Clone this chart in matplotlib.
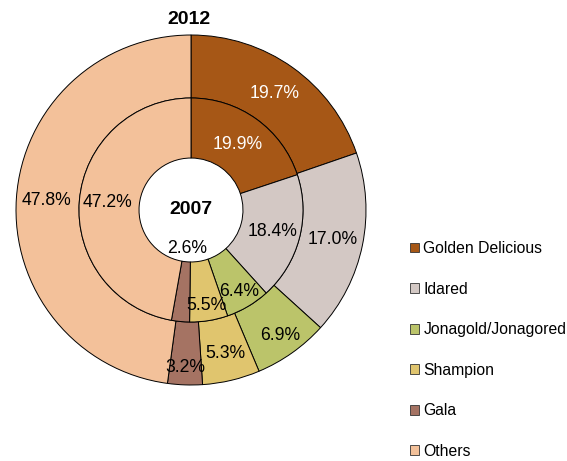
import matplotlib
matplotlib.use("Agg")
import matplotlib.pyplot as plt
import matplotlib.patches as mpatches
import numpy as np

plt.rcParams['font.family'] = ['Liberation Sans', 'DejaVu Sans']

varieties = ["Golden Delicious", "Idared", "Jonagold/Jonagored", "Shampion", "Gala", "Others"]
share_2012 = [19.7, 17.0, 6.9, 5.3, 3.2, 47.8]
share_2007 = [19.9, 18.4, 6.4, 5.5, 2.6, 47.2]
colors = ['#A65716', '#D3C8C4', '#BBC46A', '#E0C56E', '#A57363', '#F3C19A']
text_colors = ['white', 'black', 'black', 'black', 'black', 'black']

# where Excel put the labels (fraction of outer radius)
outer_label_r = [0.82, 0.825, 0.88, 0.84, 0.9, 0.83]
inner_label_r = [0.46, 0.48, 0.54, 0.555, 0.22, 0.48]

fig = plt.figure(figsize=(5.67, 4.61), dpi=100)
# pie centre at (191, 210) px, radius 175 px
ax = fig.add_axes([(191 - 175) / 567, (461 - 210 - 175) / 461, 350 / 567, 350 / 461])
ax.axis('off')

inner_r = 0.64
hole_r = 0.297
edge = dict(edgecolor='black', linewidth=0.7)

outer_wedges, _ = ax.pie(share_2012, radius=1, startangle=90, counterclock=False,
                         colors=colors, wedgeprops=dict(width=1 - inner_r, **edge))
inner_wedges, _ = ax.pie(share_2007, radius=inner_r, startangle=90, counterclock=False,
                         colors=colors, wedgeprops=dict(width=inner_r - hole_r, **edge))
ax.set_xlim(-1, 1)
ax.set_ylim(-1, 1)

def put_labels(wedges, values, radii):
    for w, v, r, c in zip(wedges, values, radii, text_colors):
        mid = np.deg2rad((w.theta1 + w.theta2) / 2)
        ax.text(r * np.cos(mid), r * np.sin(mid), "%.1f%%" % v,
                ha='center', va='center', fontsize=12.7, color=c)

put_labels(outer_wedges, share_2012, outer_label_r)
put_labels(inner_wedges, share_2007, inner_label_r)

ax.text(0, 0, "2007", ha='center', va='center', fontsize=14, fontweight='bold')
fig.text(189 / 567, 1 - 20 / 461, "2012", ha='center', va='center',
         fontsize=14, fontweight='bold')

handles = [mpatches.Patch(facecolor=c, edgecolor='#333333', linewidth=0.6) for c in colors]
fig.legend(handles, varieties, loc='center left', bbox_to_anchor=(410 / 567, 1 - 350 / 461),
           frameon=False, fontsize=11.3, handlelength=0.6, handleheight=0.6,
           handletextpad=0.25, labelspacing=1.63, borderpad=0, borderaxespad=0)

fig.savefig("out.png", dpi=100)
